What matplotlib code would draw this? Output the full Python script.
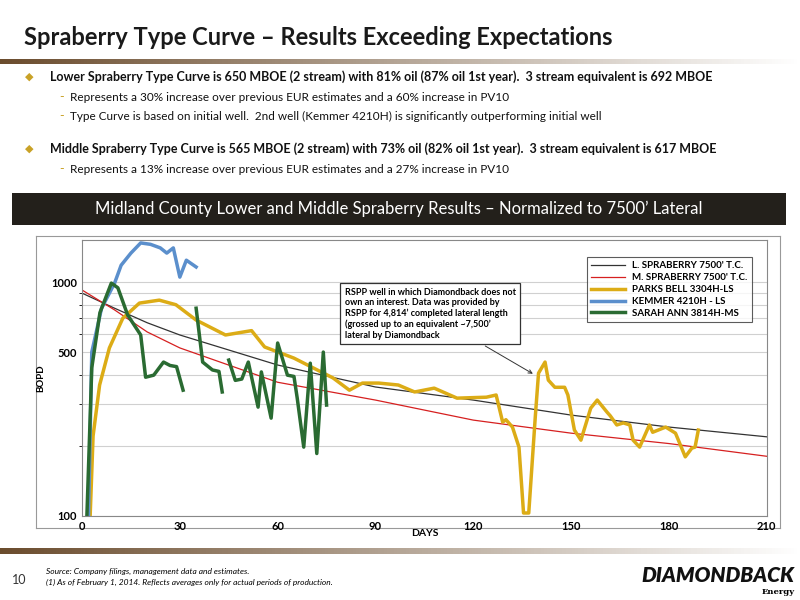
import numpy as np
import matplotlib
matplotlib.use("Agg")
import matplotlib.pyplot as plt
from matplotlib.ticker import FixedLocator, NullFormatter

plt.rcParams['font.family'] = ['Lato', 'DejaVu Sans']

# ---- data ----
tc_days = [0, 10, 20, 30, 60, 90, 120, 150, 180, 210]
l_spraberry = [897, 773, 670, 594, 442, 356, 313, 270, 240, 218]
m_spraberry = [925, 760, 612, 523, 373, 313, 257, 226, 204, 180]

parks_days = [2.5, 3.4, 5.4, 8.4, 12.5, 17.6, 23.7, 28.8, 35, 44, 52, 56, 65, 77, 82, 86, 91, 97, 102, 108,
              115, 124, 127, 129, 130, 132, 134, 135.4, 137, 139, 140, 142, 143, 145, 148, 149, 151, 153,
              156, 158, 161, 162, 164, 166, 168, 169, 171, 174, 175, 179, 182, 185, 187, 188, 189]
parks_bopd = [100, 220, 363, 523, 700, 813, 837, 800, 688, 594, 620, 528, 473, 389, 345, 370, 370, 363, 339, 352,
              319, 322, 329, 252, 258, 240, 197, 103, 103, 265, 408, 455, 381, 355, 355, 329, 233, 211,
              289, 313, 278, 268, 245, 250, 245, 211, 197, 245, 228, 240, 226, 179, 195, 197, 233]

kemmer_days = [2, 3, 6, 10, 12, 15, 18, 21, 24, 26, 28, 30, 32, 35]
kemmer_bopd = [100, 502, 773, 990, 1180, 1330, 1470, 1450, 1400, 1330, 1400, 1050, 1240, 1160]

sarah_days = [1.5, 3, 5.5, 9, 11, 14, 18, 19.5, 22, 25, 27, 29, 31, 33,
              35, 37, 40, 42, 43, 44, 45, 47, 49, 51, 54, 55, 58, 60, 63, 65, 66, 68, 70, 72, 74, 75]
sarah_bopd = [100, 430, 740, 990, 945, 723, 594, 392, 400, 455, 440, 435, 345, np.nan,
              773, 455, 421, 415, 339, np.nan, 464, 380, 385, 455, 292, 413, 262, 549, 400, 395, 319, 197, 450, 185, 502, 298]

x_ticks = [0, 30, 60, 90, 120, 150, 180, 210]

fig = plt.figure(figsize=(8, 6), dpi=100)
fig.patch.set_facecolor('white')

def grad_bar(y0, h, x0=0.0, x1=1.0):
    g = np.linspace(0, 1, 256)
    c0 = np.array([0.42, 0.30, 0.18]); c1 = np.array([1.0, 1.0, 1.0])
    img = (c0[None, :] * (1 - g[:, None]) + c1[None, :] * g[:, None])[None, :, :]
    ax = fig.add_axes([x0, y0, x1 - x0, h]); ax.imshow(img, aspect='auto'); ax.axis('off')

fig.text(0.03, 0.937, "Spraberry Type Curve – Results Exceeding Expectations", fontsize=17,
         fontweight='bold', color='#1a1a1a', va='center')
grad_bar(0.893, 0.008)

gold = '#c9a227'
lines = [
    (0.873, "◆", "Lower Spraberry Type Curve is 650 MBOE (2 stream) with 81% oil (87% oil 1st year).  3 stream equivalent is 692 MBOE", True),
    (0.838, "-", "Represents a 30% increase over previous EUR estimates and a 60% increase in PV10", False),
    (0.806, "-", "Type Curve is based on initial well.  2nd well (Kemmer 4210H) is significantly outperforming initial well", False),
    (0.753, "◆", "Middle Spraberry Type Curve is 565 MBOE (2 stream) with 73% oil (82% oil 1st year).  3 stream equivalent is 617 MBOE", True),
    (0.718, "-", "Represents a 13% increase over previous EUR estimates and a 27% increase in PV10", False),
]
for y, b, t, main in lines:
    if main:
        fig.text(0.031, y, b, fontsize=8, color=gold, va='center', family=['DejaVu Sans'])
        fig.text(0.062, y, t, fontsize=9, fontweight='bold', color='#111111', va='center')
    else:
        fig.text(0.074, y, b, fontsize=9, color=gold, va='center')
        fig.text(0.087, y, t, fontsize=8.5, color='#111111', va='center')

# banner
bax = fig.add_axes([0.015, 0.625, 0.967, 0.053])
bax.set_facecolor('#23201b'); bax.set_xticks([]); bax.set_yticks([])
for s in bax.spines.values(): s.set_visible(False)
bax.text(0.5, 0.5, "Midland County Lower and Middle Spraberry Results – Normalized to 7500’ Lateral",
         color='white', fontsize=12, ha='center', va='center', transform=bax.transAxes)

# chart frame
fax = fig.add_axes([0.045, 0.12, 0.93, 0.487])
fax.set_xticks([]); fax.set_yticks([])
for s in fax.spines.values(): s.set_color('#999999')

ax = fig.add_axes([0.1025, 0.14, 0.856, 0.46])
ax.set_yscale('log')
ax.set_ylim(100, 1513)
ax.set_xlim(0, 210)
ax.yaxis.set_major_locator(FixedLocator([100, 500, 1000]))
ax.yaxis.set_major_formatter(matplotlib.ticker.FuncFormatter(lambda v, p: f"{int(v)}"))
ax.yaxis.set_minor_locator(FixedLocator([200, 300, 400, 600, 700, 800, 900]))
ax.yaxis.set_minor_formatter(NullFormatter())
ax.set_xticks(x_ticks)
ax.grid(True, which='both', axis='y', color='#d0d0d0', lw=0.8)
ax.tick_params(labelsize=8, length=0)
for lab in ax.get_xticklabels() + ax.get_yticklabels(): lab.set_fontweight('bold')
ax.set_xlabel("DAYS", fontsize=7.5, fontweight='bold', labelpad=-2)
ax.set_ylabel("BOPD", fontsize=7, fontweight='bold')
for s in ax.spines.values(): s.set_color('#888888')

ax.plot(tc_days, l_spraberry, color='#333333', lw=0.9, label="L. SPRABERRY 7500' T.C.")
ax.plot(tc_days, m_spraberry, color='#d62020', lw=0.9, label="M. SPRABERRY 7500' T.C.")
ax.plot(parks_days, parks_bopd, color='#dcac16', lw=2.5, label="PARKS BELL 3304H-LS")
ax.plot(kemmer_days, kemmer_bopd, color='#5b8fcc', lw=2.5, label="KEMMER 4210H - LS")
ax.plot(sarah_days, sarah_bopd, color='#2a6b32', lw=2.5, label="SARAH ANN 3814H-MS")

leg = ax.legend(loc='upper right', bbox_to_anchor=(0.985, 0.955), fontsize=7, frameon=True,
                fancybox=False, edgecolor='#333333', handlelength=3.5, borderpad=0.4, labelspacing=0.3)
leg.get_frame().set_linewidth(0.8)
for t in leg.get_texts(): t.set_fontweight('bold')

ax.annotate("RSPP well in which Diamondback does not\nown an interest. Data was provided by\nRSPP for 4,814’ completed lateral length\n(grossed up to an equivalent ~7,500’\nlateral by Diamondback",
            xy=(139, 400), xytext=(80.5, 732), fontsize=6.5, fontweight='bold', va='center',
            bbox=dict(boxstyle='square,pad=0.5', fc='white', ec='#333333', lw=0.9),
            arrowprops=dict(arrowstyle='->', color='#333333', lw=0.7))

grad_bar(0.077, 0.009)
fig.text(0.015, 0.033, "10", fontsize=9, color='#333333', va='center')
fig.text(0.058, 0.048, "Source: Company filings, management data and estimates.", fontsize=6, style='italic', va='center')
fig.text(0.058, 0.030, "(1) As of February 1, 2014. Reflects averages only for actual periods of production.", fontsize=6, style='italic', va='center')
fig.text(0.993, 0.04, "DIAMONDBACK", fontsize=15, fontweight='heavy', style='italic', ha='right', va='center', color='#111111')
fig.text(0.993, 0.014, "Energy", fontsize=6, fontweight='bold', ha='right', va='center', family=['DejaVu Serif'])

fig.savefig("out.png", dpi=100)
